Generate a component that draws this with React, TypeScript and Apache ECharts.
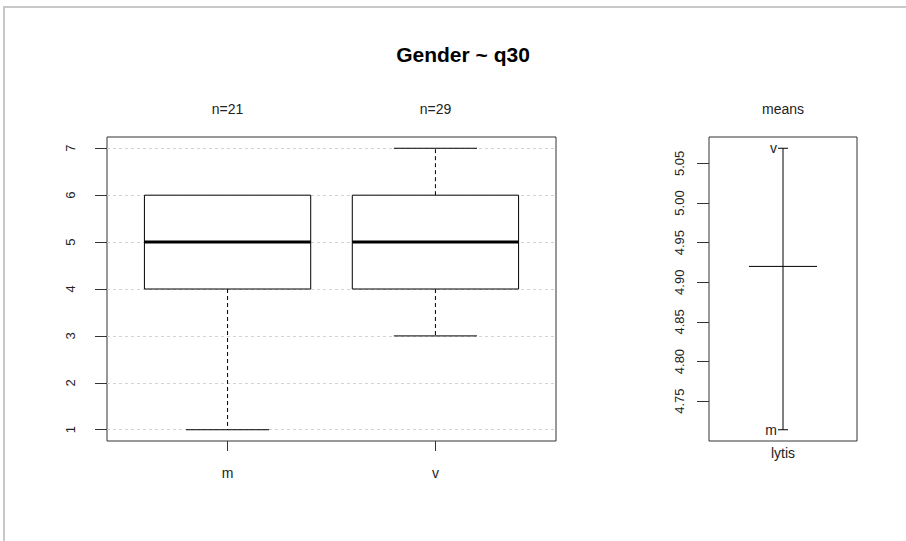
import React, { useEffect, useRef } from "react";
import * as echarts from "echarts";

// ---- data ----
const title = "Gender ~ q30";
const groups = ["m", "v"];
const groupN = [21, 29];
// [min, q1, median, q3, max]
const boxStats = [
  [1, 4, 5, 6, 6],
  [3, 4, 5, 6, 7],
];
const leftTicks = [1, 2, 3, 4, 5, 6, 7];
const groupMeans = [4.714, 5.069];
const overallMean = 4.92;
const meanTicks = [4.75, 4.8, 4.85, 4.9, 4.95, 5.0, 5.05];
const meanPanelTitle = "means";
const meanAxisName = "lytis";

const FONT = "Liberation Sans, Arial, sans-serif";
const TXT = "#222";

export default function App() {
  const ref = useRef<HTMLDivElement>(null);
  useEffect(() => {
    if (!ref.current) return;
    const chart = echarts.init(ref.current, null, { renderer: "svg" });

    const allVals = boxStats.flat();
    const yMinL = Math.min(...allVals);
    const yMaxL = Math.max(...allVals);
    const padL = (yMaxL - yMinL) * 0.04;
    const mMin = Math.min(...groupMeans);
    const mMax = Math.max(...groupMeans);
    const padM = (mMax - mMin) * 0.04;
    const xPad = groups.length * 0.04;

    const boxData = boxStats.map((s, i) => [i + 1, ...s]);

    const option: any = {
      animation: false,
      backgroundColor: "#fff",
      textStyle: { fontFamily: FONT },
      title: {
        text: title,
        left: 458,
        top: 39,
        textAlign: "center",
        textStyle: { fontFamily: FONT, fontSize: 21, fontWeight: "bold", color: "#000" },
      },
      graphic: [
        { type: "line", shape: { x1: 4, y1: 7, x2: 906, y2: 7 }, style: { stroke: "#c8c8c8", lineWidth: 2 } },
        { type: "line", shape: { x1: 4, y1: 6, x2: 4, y2: 541 }, style: { stroke: "#c8c8c8", lineWidth: 2 } },
      ],
      grid: [
        { left: 107, top: 137, width: 449, height: 304, show: true, borderColor: "#333", borderWidth: 1, backgroundColor: "transparent" },
        { left: 709, top: 137, width: 148, height: 304, show: true, borderColor: "#333", borderWidth: 1, backgroundColor: "transparent" },
      ],
      xAxis: [
        {
          type: "value", gridIndex: 0, min: 0.5 - xPad, max: groups.length + 0.5 + xPad,
          axisLine: { show: false }, splitLine: { show: false },
          axisTick: { show: true, length: 10, customValues: groups.map((_, i) => i + 1), lineStyle: { color: "#333" } },
          axisLabel: {
            customValues: groups.map((_, i) => i + 1), margin: 25, fontSize: 14, color: TXT, fontFamily: FONT,
            formatter: (v: number) => groups[Math.round(v) - 1] ?? "",
          },
        },
        {
          type: "value", gridIndex: 0, position: "top", min: 0.5 - xPad, max: groups.length + 0.5 + xPad,
          axisLine: { show: false }, splitLine: { show: false }, axisTick: { show: false },
          axisLabel: {
            customValues: groups.map((_, i) => i + 1), margin: 21, fontSize: 14, color: TXT, fontFamily: FONT,
            formatter: (v: number) => "n=" + (groupN[Math.round(v) - 1] ?? ""),
          },
        },
        {
          type: "value", gridIndex: 1, min: 0, max: 2,
          axisLine: { show: false }, splitLine: { show: false }, axisTick: { show: false },
          axisLabel: { customValues: [1], margin: 5, fontSize: 14, color: TXT, fontFamily: FONT, formatter: () => meanAxisName },
        },
        {
          type: "value", gridIndex: 1, position: "top", min: 0, max: 2,
          axisLine: { show: false }, splitLine: { show: false }, axisTick: { show: false },
          axisLabel: { customValues: [1], margin: 21, fontSize: 14, color: TXT, fontFamily: FONT, formatter: () => meanPanelTitle },
        },
      ],
      yAxis: [
        {
          type: "value", gridIndex: 0, min: yMinL - padL, max: yMaxL + padL,
          axisLine: { show: false },
          axisTick: { show: true, length: 12, customValues: leftTicks, lineStyle: { color: "#333" } },
          splitLine: { show: true, lineStyle: { color: "#d3d3d3", type: [3, 3], width: 1 } },
          axisLabel: { customValues: leftTicks, rotate: 90, margin: 30, fontSize: 13, color: TXT, fontFamily: FONT },
        },
        {
          type: "value", gridIndex: 1, min: mMin - padM, max: mMax + padM,
          axisLine: { show: false }, splitLine: { show: false },
          axisTick: { show: true, length: 12, customValues: meanTicks, lineStyle: { color: "#333" } },
          axisLabel: {
            customValues: meanTicks, rotate: 90, margin: 23, fontSize: 13, color: TXT, fontFamily: FONT,
            formatter: (v: number) => v.toFixed(2),
          },
        },
      ],
      series: [
        {
          type: "custom",
          xAxisIndex: 0, yAxisIndex: 0,
          data: boxData,
          encode: { x: 0, y: [1, 2, 3, 4, 5] },
          renderItem: (params: any, api: any) => {
            const x = api.value(0);
            const mn = api.coord([x, api.value(1)]);
            const q1 = api.coord([x, api.value(2)]);
            const md = api.coord([x, api.value(3)]);
            const q3 = api.coord([x, api.value(4)]);
            const mx = api.coord([x, api.value(5)]);
            const hw = api.size([0.8, 0])[0] / 2;
            const cw = api.size([0.4, 0])[0] / 2;
            const cx = q1[0];
            const children: any[] = [];
            const dash = { stroke: "#000", lineWidth: 1, lineDash: [4, 3] };
            const solid = { stroke: "#000", lineWidth: 1 };
            if (api.value(1) < api.value(2)) {
              children.push({ type: "line", shape: { x1: cx, y1: q1[1], x2: cx, y2: mn[1] }, style: dash });
              children.push({ type: "line", shape: { x1: cx - cw, y1: mn[1], x2: cx + cw, y2: mn[1] }, style: solid });
            }
            if (api.value(5) > api.value(4)) {
              children.push({ type: "line", shape: { x1: cx, y1: q3[1], x2: cx, y2: mx[1] }, style: dash });
              children.push({ type: "line", shape: { x1: cx - cw, y1: mx[1], x2: cx + cw, y2: mx[1] }, style: solid });
            }
            children.push({
              type: "rect",
              shape: { x: cx - hw, y: q3[1], width: hw * 2, height: q1[1] - q3[1] },
              style: { fill: "#fff", stroke: "#000", lineWidth: 1 },
            });
            children.push({ type: "line", shape: { x1: cx - hw, y1: md[1], x2: cx + hw, y2: md[1] }, style: { stroke: "#000", lineWidth: 3 } });
            return { type: "group", children };
          },
        },
        {
          type: "custom",
          xAxisIndex: 2, yAxisIndex: 1,
          data: [[1, mMin, mMax, overallMean]],
          encode: { x: 0, y: [1, 2, 3] },
          renderItem: (params: any, api: any) => {
            const lo = api.coord([1, api.value(1)]);
            const hi = api.coord([1, api.value(2)]);
            const om = api.coord([1, api.value(3)]);
            const hw = api.size([0.46, 0])[0];
            const cx = lo[0];
            const st = { stroke: "#000", lineWidth: 1 };
            const children: any[] = [
              { type: "line", shape: { x1: cx, y1: hi[1], x2: cx, y2: lo[1] }, style: st },
              { type: "line", shape: { x1: cx - hw, y1: om[1], x2: cx + hw, y2: om[1] }, style: st },
            ];
            groupMeans.forEach((m, i) => {
              const p = api.coord([1, m]);
              children.push({ type: "line", shape: { x1: cx - 5, y1: p[1], x2: cx + 5, y2: p[1] }, style: st });
              children.push({
                type: "text",
                style: { text: groups[i], x: cx - 6, y: p[1], align: "right", verticalAlign: "middle", fontSize: 14, fontFamily: FONT, fill: TXT },
              });
            });
            return { type: "group", children };
          },
        },
      ],
    };
    chart.setOption(option);
    return () => chart.dispose();
  }, []);
  return <div ref={ref} style={{ position: "fixed", left: 0, top: 0, width: 906, height: 541 }} />;
}
